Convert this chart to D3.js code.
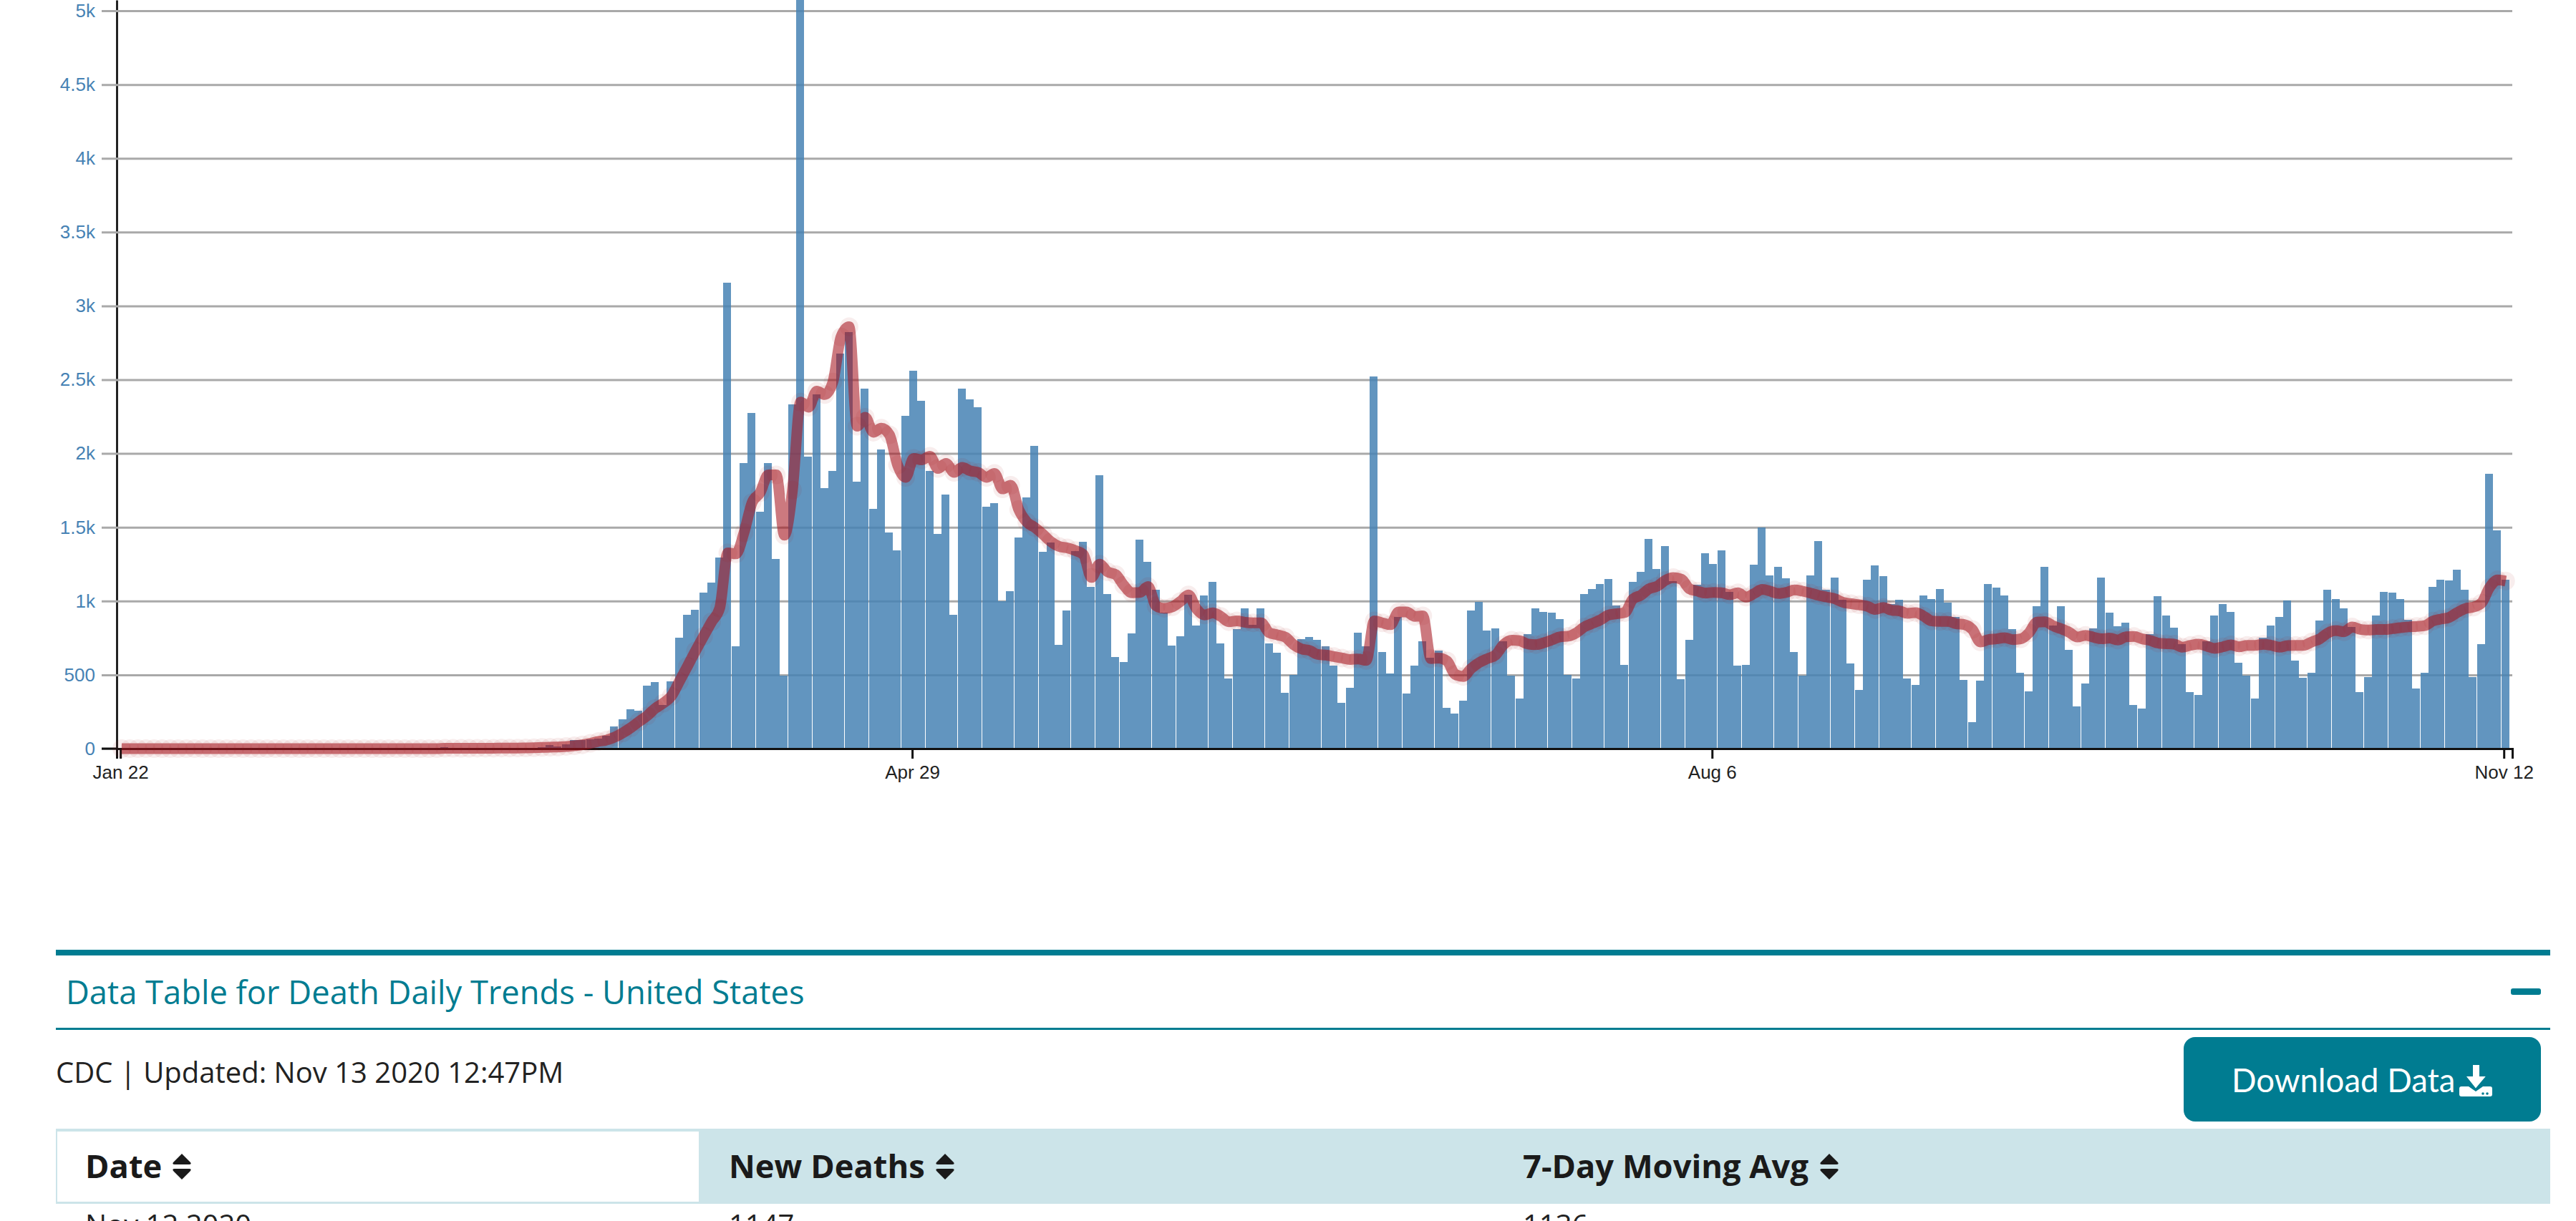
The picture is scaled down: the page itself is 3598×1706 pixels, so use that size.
<!DOCTYPE html>
<html>
<head>
<meta charset="utf-8">
<title>Death Daily Trends - United States</title>
<script src="https://cdn.jsdelivr.net/npm/d3@7"></script>
<style>
    html, body { margin: 0; padding: 0; background: #fff; overflow: hidden; }
    svg { display: block; }
</style>
</head>
<body>
<div id="chart"></div>
<script>
// one value per day from Jan 22 to Nov 12
// the Apr 15 bar runs past the top of the page, so only its lower bound is known
const newDeaths = [
    0, 0, 0, 0, 0, 0, 0, 0, 0, 0,
    0, 0, 0, 0, 0, 0, 0, 0, 0, 0,
    0, 0, 0, 0, 0, 0, 0, 0, 0, 0,
    0, 0, 0, 0, 0, 0, 0, 0, 0, 0,
    10, 1, 1, 2, 5, 5, 3, 6, 4, 3,
    5, 4, 10, 25, 13, 30, 60, 60, 64, 66,
    86, 150, 199, 267, 255, 428, 449, 298, 457, 750,
    909, 939, 1058, 1127, 1297, 3158, 694, 1933, 2273, 1606,
    1933, 1283, 497, 2331, 5100, 1980, 2399, 1763, 1882, 2675,
    2825, 1807, 2440, 1627, 2025, 1467, 1341, 2253, 2559, 2355,
    1882, 1457, 1722, 909, 2440, 2368, 2311, 1637, 1664, 998,
    1068, 1432, 1704, 2050, 1333, 1398, 703, 938, 1340, 1403,
    1094, 1855, 1049, 621, 588, 782, 1418, 1267, 1077, 920,
    699, 761, 1041, 836, 1039, 1132, 713, 477, 812, 950,
    840, 950, 713, 650, 379, 499, 743, 757, 737, 695,
    564, 310, 413, 785, 695, 2521, 654, 509, 890, 373,
    564, 729, 618, 665, 276, 238, 324, 937, 995, 802,
    816, 729, 495, 340, 775, 950, 926, 922, 878, 500,
    477, 1048, 1082, 1116, 1150, 970, 568, 1130, 1198, 1421,
    1218, 1373, 1135, 471, 737, 1111, 1324, 1252, 1344, 1064,
    563, 568, 1247, 1499, 1174, 1232, 1155, 655, 495, 1174,
    1407, 1077, 1159, 1009, 577, 398, 1145, 1242, 1169, 980,
    1009, 475, 432, 1038, 1014, 1082, 990, 893, 466, 179,
    461, 1116, 1091, 1038, 810, 514, 388, 965, 1232, 834,
    965, 669, 286, 441, 815, 1159, 922, 830, 854, 296,
    272, 776, 1033, 902, 820, 708, 383, 364, 728, 902,
    980, 927, 582, 495, 340, 752, 834, 893, 1004, 597,
    480, 514, 868, 1077, 1014, 951, 825, 383, 485, 902,
    1062, 1057, 1014, 873, 407, 514, 1096, 1145, 1140, 1213,
    1077, 485, 708, 1863, 1480, 1147
];

const movingAvg = [
    0, 0, 0, 0, 0, 0, 0, 0, 0, 0,
    0, 0, 0, 0, 0, 0, 0, 0, 0, 0,
    0, 0, 0, 0, 0, 0, 0, 0, 0, 0,
    0, 0, 0, 0, 0, 0, 0, 0, 0, 0,
    2, 2, 2, 2, 3, 3, 3, 4, 4, 4,
    5, 6, 8, 10, 11, 15, 19, 26, 36, 49,
    58, 78, 107, 142, 183, 222, 272, 308, 355, 455,
    558, 662, 762, 860, 953, 1327, 1320, 1463, 1667, 1735,
    1855, 1855, 1446, 1752, 2348, 2314, 2423, 2399, 2484, 2790,
    2859, 2185, 2246, 2144, 2171, 2127, 1923, 1838, 1967, 1957,
    1981, 1899, 1933, 1872, 1906, 1882, 1872, 1838, 1865, 1760,
    1785, 1620, 1535, 1498, 1452, 1402, 1370, 1360, 1342, 1315,
    1160, 1250, 1198, 1180, 1107, 1056, 1058, 1098, 967, 951,
    961, 997, 1041, 947, 906, 920, 896, 860, 866, 856,
    852, 852, 785, 771, 755, 705, 675, 665, 638, 634,
    624, 614, 604, 608, 598, 866, 852, 840, 926, 926,
    896, 900, 610, 614, 594, 503, 489, 544, 584, 610,
    634, 705, 735, 731, 709, 705, 718, 737, 758, 762,
    785, 825, 849, 873, 906, 914, 922, 1014, 1040, 1083,
    1100, 1140, 1159, 1148, 1083, 1067, 1054, 1059, 1056, 1043,
    1056, 1027, 1051, 1079, 1067, 1051, 1059, 1075, 1067, 1054,
    1038, 1027, 1015, 991, 982, 975, 965, 943, 957, 938,
    933, 917, 922, 897, 865, 862, 862, 846, 841, 808,
    723, 739, 744, 752, 739, 744, 784, 857, 860, 832,
    812, 788, 756, 768, 755, 744, 749, 736, 758, 760,
    744, 733, 715, 711, 708, 687, 700, 708, 695, 679,
    690, 703, 690, 700, 700, 707, 700, 687, 698, 700,
    700, 723, 744, 784, 800, 792, 825, 808, 804, 807,
    807, 813, 820, 825, 828, 833, 865, 878, 889, 922,
    949, 959, 986, 1091, 1143, 1136
];

const days = d3.range(newDeaths.length);
const xTickDays = [0, 98, 197, 295];
const xTickLabels = ["Jan 22", "Apr 29", "Aug 6", "Nov 12"];
const yTicks = [0, 500, 1000, 1500, 2000, 2500, 3000, 3500, 4000, 4500, 5000];
const yTickLabels = ["0", "500", "1k", "1.5k", "2k", "2.5k", "3k", "3.5k", "4k", "4.5k", "5k"];

const tableTitle = "Data Table for Death Daily Trends - United States";
const updatedText = "CDC | Updated: Nov 13 2020 12:47PM";
const downloadText = "Download Data";
const tableHeads = ["Date", "New Deaths", "7-Day Moving Avg"];
const tableRow = ["Nov 12 2020", "1147", "1136"];

const width = 3598;
const height = 1706;
const teal = "#007c91";
const axisFont = "'Liberation Sans', Arial, sans-serif";
const pageFont = "'Open Sans', sans-serif";

const svg = d3.select("#chart")
    .append("svg")
    .attr("width", width)
    .attr("height", height);

const y = d3.scaleLinear()
    .domain([0, 5073])
    .range([1046, 0]);

// axis ends stick out a little past the first and last day
const xAxisScale = d3.scaleBand()
    .domain(days)
    .range([163, 3509])
    .paddingOuter(0.25)
    .align(0);

const xBar = d3.scaleBand()
    .domain(days)
    .range([164.4, 3505.4]);

// gridlines double as the y ticks
const yAxis = svg.append("g")
    .attr("transform", "translate(163,0)")
    .call(d3.axisLeft(y)
        .tickValues(yTicks)
        .tickFormat((d, i) => yTickLabels[i])
        .tickSizeOuter(0)
        .tickSizeInner(21)
        .tickPadding(9));

yAxis.select(".domain").attr("stroke", "#222").attr("stroke-width", 3);
yAxis.selectAll(".tick line")
    .attr("x1", -21)
    .attr("x2", 3346)
    .attr("stroke", "#a9a9a9")
    .attr("stroke-width", 3);
yAxis.selectAll(".tick text")
    .attr("fill", "#4682b4")
    .attr("font-family", axisFont)
    .attr("font-size", 26);

svg.append("g")
    .selectAll("rect")
    .data(days)
    .join("rect")
    .attr("x", d => Math.floor(xBar(d)))
    .attr("y", d => y(newDeaths[d]))
    .attr("width", Math.floor(xBar.bandwidth()))
    .attr("height", d => y(0) - y(newDeaths[d]))
    .attr("fill", "#4682b4")
    .attr("fill-opacity", 0.85)
    .attr("shape-rendering", "crispEdges");

const xAxis = svg.append("g")
    .attr("transform", "translate(0,1046)")
    .call(d3.axisBottom(xAxisScale)
        .tickValues(xTickDays)
        .tickFormat((d, i) => xTickLabels[i])
        .tickSizeInner(14)
        .tickSizeOuter(14)
        .tickPadding(10));

xAxis.select(".domain").attr("stroke", "#111").attr("stroke-width", 3);
xAxis.selectAll(".tick line").attr("stroke", "#111").attr("stroke-width", 3);
xAxis.selectAll(".tick text")
    .attr("fill", "#222")
    .attr("font-family", axisFont)
    .attr("font-size", 26);

// the baseline gridline reaches back to the y labels too
svg.append("line")
    .attr("x1", 142)
    .attr("x2", 163)
    .attr("y1", y(0))
    .attr("y2", y(0))
    .attr("stroke", "#111")
    .attr("stroke-width", 3);

const avgX = d => xBar(d) + xBar.bandwidth() / 2;

const avgLine = d3.line()
    .x(avgX)
    .y(d => y(movingAvg[d]))
    .curve(d3.curveMonotoneX);

svg.append("path")
    .datum(days)
    .attr("d", avgLine)
    .attr("fill", "none")
    .attr("stroke", "#a5141e")
    .attr("stroke-opacity", 0.57)
    .attr("stroke-width", 15)
    .attr("stroke-linejoin", "round");

svg.append("g")
    .selectAll("circle")
    .data(days)
    .join("circle")
    .attr("cx", avgX)
    .attr("cy", d => y(movingAvg[d]))
    .attr("r", 13)
    .attr("fill", "#a5141e")
    .attr("fill-opacity", 0.08);

// data table below the chart
svg.append("rect").attr("x", 78).attr("y", 1327).attr("width", 3484).attr("height", 8).attr("fill", teal);
svg.append("rect").attr("x", 78).attr("y", 1436).attr("width", 3484).attr("height", 3).attr("fill", teal);
svg.append("rect").attr("x", 3507).attr("y", 1381).attr("width", 42).attr("height", 9).attr("rx", 3).attr("fill", teal);

svg.append("text")
    .attr("x", 92)
    .attr("y", 1403)
    .attr("fill", teal)
    .attr("font-family", pageFont)
    .attr("font-size", 45.3)
    .text(tableTitle);

svg.append("text")
    .attr("x", 78)
    .attr("y", 1513)
    .attr("fill", "#222")
    .attr("font-family", pageFont)
    .attr("font-size", 40)
    .text(updatedText);

svg.append("rect")
    .attr("x", 3050)
    .attr("y", 1449)
    .attr("width", 499)
    .attr("height", 118)
    .attr("rx", 16)
    .attr("fill", teal);

svg.append("text")
    .attr("x", 3117)
    .attr("y", 1526)
    .attr("fill", "#fff")
    .attr("font-family", "Lato, sans-serif")
    .attr("font-size", 45.5)
    .text(downloadText);

// download icon: arrow over a tray with two small dots
const icon = svg.append("g").attr("transform", "translate(3435,1487)");
icon.append("path")
    .attr("fill", "#fff")
    .attr("d", "M3 31H13L23 38 33 31H43Q46 31 46 34V42Q46 45 43 45H3Q0 45 0 42V34Q0 31 3 31z");
icon.append("path")
    .attr("fill", "#fff")
    .attr("stroke", teal)
    .attr("stroke-width", 2)
    .attr("d", "M18 0H29V16H39L23 35 8 16H18z");
icon.append("circle").attr("cx", 33).attr("cy", 41).attr("r", 1.8).attr("fill", teal);
icon.append("circle").attr("cx", 39).attr("cy", 41).attr("r", 1.8).attr("fill", teal);

svg.append("rect").attr("x", 78).attr("y", 1577).attr("width", 3484).attr("height", 105).attr("fill", "#cce4e9");
svg.append("rect").attr("x", 80).attr("y", 1581).attr("width", 896).attr("height", 98).attr("fill", "#fff");

const columnX = [119, 1018, 2127];
const sortIconX = [241, 1307, 2542];

tableHeads.forEach((head, i) => {
    svg.append("text")
        .attr("x", columnX[i])
        .attr("y", 1646)
        .attr("fill", "#1a1a1a")
        .attr("font-family", pageFont)
        .attr("font-weight", 700)
        .attr("font-size", 45.3)
        .text(head);

    // sort arrows
    svg.append("path")
        .attr("transform", `translate(${sortIconX[i]},1612)`)
        .attr("fill", "#1a1a1a")
        .attr("d", "M13 0L25 12Q27 15 23 15H3Q-1 15 1 12z M3 21H23Q27 21 25 24L13 36 1 24Q-1 21 3 21z");

    svg.append("text")
        .attr("x", columnX[i])
        .attr("y", 1726)
        .attr("fill", "#222")
        .attr("font-family", pageFont)
        .attr("font-size", 40)
        .text(tableRow[i]);
});
</script>
</body>
</html>
